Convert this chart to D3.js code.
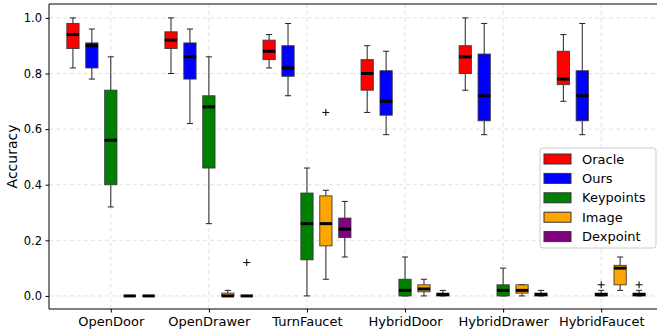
<!DOCTYPE html>
<html>
<head>
<meta charset="utf-8">
<script src="https://cdn.jsdelivr.net/npm/d3@7"></script>
<style>
  body { margin: 0; background: #fff; }
  svg { font-family: "DejaVu Sans", sans-serif; }
  .grid line { stroke: #d9d9d9; stroke-dasharray: 4,3; stroke-width: 0.8; }
</style>
</head>
<body>
<div id="chart"></div>
<script>
var width = 657;
var height = 333;

// tasks on the x axis
var categories = ["OpenDoor", "OpenDrawer", "TurnFaucet", "HybridDoor", "HybridDrawer", "HybridFaucet"];
var methods = ["Oracle", "Ours", "Keypoints", "Image", "Dexpoint"];
var colors = ["#ff0000", "#0000ff", "#008000", "#ffa500", "#800080"];
var yTicks = [0.0, 0.2, 0.4, 0.6, 0.8, 1.0];

// box stats per task: [whisker low, q1, median, q3, whisker high]
var oracle = [
    [0.82, 0.89, 0.94, 0.98, 1.00],
    [0.80, 0.89, 0.92, 0.95, 1.00],
    [0.82, 0.85, 0.88, 0.92, 0.94],
    [0.66, 0.74, 0.80, 0.85, 0.90],
    [0.74, 0.80, 0.86, 0.90, 1.00],
    [0.70, 0.76, 0.78, 0.88, 0.94]
];
var ours = [
    [0.78, 0.82, 0.90, 0.91, 0.96],
    [0.62, 0.78, 0.86, 0.91, 0.96],
    [0.72, 0.79, 0.82, 0.90, 0.98],
    [0.58, 0.65, 0.70, 0.81, 0.88],
    [0.58, 0.63, 0.72, 0.87, 0.98],
    [0.58, 0.63, 0.72, 0.81, 0.98]
];
var keypoints = [
    [0.32, 0.40, 0.56, 0.74, 0.86],
    [0.26, 0.46, 0.68, 0.72, 0.86],
    [0.00, 0.13, 0.26, 0.37, 0.46],
    [0.00, 0.00, 0.02, 0.06, 0.14],
    [0.00, 0.00, 0.02, 0.04, 0.10],
    [0.00, 0.00, 0.005, 0.01, 0.02]
];
var image = [
    [0.00, 0.00, 0.00, 0.00, 0.00],
    [0.00, 0.00, 0.00, 0.01, 0.02],
    [0.06, 0.18, 0.26, 0.36, 0.38],
    [0.00, 0.015, 0.025, 0.04, 0.06],
    [0.00, 0.01, 0.02, 0.04, 0.04],
    [0.02, 0.04, 0.10, 0.11, 0.14]
];
var dexpoint = [
    [0.00, 0.00, 0.00, 0.00, 0.00],
    [0.00, 0.00, 0.00, 0.00, 0.00],
    [0.14, 0.21, 0.24, 0.28, 0.34],
    [0.00, 0.00, 0.005, 0.01, 0.02],
    [0.00, 0.00, 0.005, 0.01, 0.02],
    [0.00, 0.00, 0.005, 0.01, 0.02]
];
var series = [oracle, ours, keypoints, image, dexpoint];

// outliers: [task index, method index, value]
var fliers = [
    [1, 4, 0.12],
    [2, 3, 0.66],
    [5, 2, 0.04],
    [5, 4, 0.04]
];

var margin = { left: 49, top: 4, bottom: 309, right: 663 };
var offset = 0.193;   // spacing of the boxes in a group
var boxW = 0.125;     // box width in x units

var x = d3.scaleLinear().domain([-0.63, categories.length - 1 + 0.63]).range([margin.left, margin.right]);
var y = d3.scaleLinear().domain([-0.047, 1.05]).range([margin.bottom, margin.top]);

var svg = d3.select("#chart")
    .append("svg")
    .attr("width", width)
    .attr("height", height);

// grid
var grid = svg.append("g").attr("class", "grid");
grid.selectAll("line.gy")
    .data(yTicks)
    .enter()
        .append("line")
        .attr("x1", margin.left).attr("x2", margin.right)
        .attr("y1", function(d){ return y(d); })
        .attr("y2", function(d){ return y(d); });
grid.selectAll("line.gx")
    .data(categories)
    .enter()
        .append("line")
        .attr("x1", function(d,i){ return x(i); })
        .attr("x2", function(d,i){ return x(i); })
        .attr("y1", margin.top).attr("y2", margin.bottom);

// boxes
var px = function(i,j){ return x(i + (j - 2) * offset); };
var halfW = (x(boxW) - x(0)) / 2;

series.forEach(function(s, j){
    var g = svg.append("g").attr("class", "series-" + j);
    var item = g.selectAll("g")
        .data(s)
        .enter()
            .append("g");

    // whiskers
    item.append("line")
        .attr("x1", function(d,i){ return px(i,j); })
        .attr("x2", function(d,i){ return px(i,j); })
        .attr("y1", function(d){ return y(d[0]); })
        .attr("y2", function(d){ return y(d[1]); })
        .attr("stroke", "#222").attr("stroke-width", 1);
    item.append("line")
        .attr("x1", function(d,i){ return px(i,j); })
        .attr("x2", function(d,i){ return px(i,j); })
        .attr("y1", function(d){ return y(d[3]); })
        .attr("y2", function(d){ return y(d[4]); })
        .attr("stroke", "#222").attr("stroke-width", 1);
    // caps
    [0, 4].forEach(function(k){
        item.append("line")
            .attr("x1", function(d,i){ return px(i,j) - halfW / 2; })
            .attr("x2", function(d,i){ return px(i,j) + halfW / 2; })
            .attr("y1", function(d){ return y(d[k]); })
            .attr("y2", function(d){ return y(d[k]); })
            .attr("stroke", "#222").attr("stroke-width", 1);
    });
    // box
    item.append("rect")
        .attr("x", function(d,i){ return px(i,j) - halfW; })
        .attr("width", halfW * 2)
        .attr("y", function(d){ return y(d[3]); })
        .attr("height", function(d){ return y(d[1]) - y(d[3]); })
        .attr("fill", colors[j])
        .attr("stroke", "#333")
        .attr("stroke-opacity", 0.85)
        .attr("stroke-width", 1);
    // median
    item.append("line")
        .attr("x1", function(d,i){ return px(i,j) - halfW; })
        .attr("x2", function(d,i){ return px(i,j) + halfW; })
        .attr("y1", function(d){ return y(d[2]); })
        .attr("y2", function(d){ return y(d[2]); })
        .attr("stroke", "#000").attr("stroke-width", 3);
});

// fliers
svg.append("g")
    .selectAll("path")
    .data(fliers)
    .enter()
        .append("path")
        .attr("d", d3.symbol().type(d3.symbolCross).size(0))
        .attr("transform", function(d){ return "translate(" + px(d[0], d[1]) + "," + y(d[2]) + ")"; })
        .attr("d", "M-3.5,0H3.5M0,-3.5V3.5")
        .attr("stroke", "#000").attr("stroke-width", 1).attr("fill", "none");

// axes
var yAxis = svg.append("g")
    .attr("transform", "translate(" + margin.left + ",0)")
    .call(d3.axisLeft(y).tickValues(yTicks).tickFormat(d3.format(".1f")).tickSize(3.5).tickPadding(3.5));
yAxis.selectAll("text").attr("font-size", 11.5).attr("fill", "#000").attr("font-family", "DejaVu Sans");
yAxis.select(".domain").remove();

var xAxis = svg.append("g")
    .attr("transform", "translate(0," + margin.bottom + ")")
    .call(d3.axisBottom(x).tickValues(d3.range(categories.length)).tickFormat(function(d){ return categories[d]; }).tickSize(3.5).tickPadding(4));
xAxis.selectAll("text").attr("font-size", 13).attr("fill", "#000").attr("font-family", "DejaVu Sans");
xAxis.select(".domain").remove();

// spines
svg.append("line").attr("x1", margin.left).attr("x2", margin.left).attr("y1", margin.top).attr("y2", margin.bottom).attr("stroke", "#000").attr("stroke-width", 1);
svg.append("line").attr("x1", margin.left).attr("x2", margin.right).attr("y1", margin.bottom).attr("y2", margin.bottom).attr("stroke", "#000").attr("stroke-width", 1);
svg.append("line").attr("x1", margin.left).attr("x2", margin.right).attr("y1", margin.top).attr("y2", margin.top).attr("stroke", "#000").attr("stroke-width", 1);

// y label
svg.append("text")
    .attr("transform", "translate(17," + ((margin.top + margin.bottom) / 2) + ") rotate(-90)")
    .attr("text-anchor", "middle")
    .attr("font-size", 14)
    .text("Accuracy");

// legend
var legend = svg.append("g").attr("transform", "translate(540,148)");
legend.append("rect")
    .attr("width", 116).attr("height", 100)
    .attr("rx", 3)
    .attr("fill", "#fff").attr("fill-opacity", 0.8)
    .attr("stroke", "#ccc");
var row = legend.selectAll("g.row")
    .data(methods)
    .enter()
        .append("g")
        .attr("transform", function(d,i){ return "translate(4," + (11 + i * 19.4) + ")"; });
row.append("rect")
    .attr("x", 0).attr("y", -5).attr("width", 27).attr("height", 10)
    .attr("fill", function(d,i){ return colors[i]; })
    .attr("stroke", "#333").attr("stroke-width", 1);
row.append("text")
    .attr("x", 38).attr("y", 0).attr("dy", "0.35em")
    .attr("font-size", 13)
    .text(function(d){ return d; });
</script>
</body>
</html>
